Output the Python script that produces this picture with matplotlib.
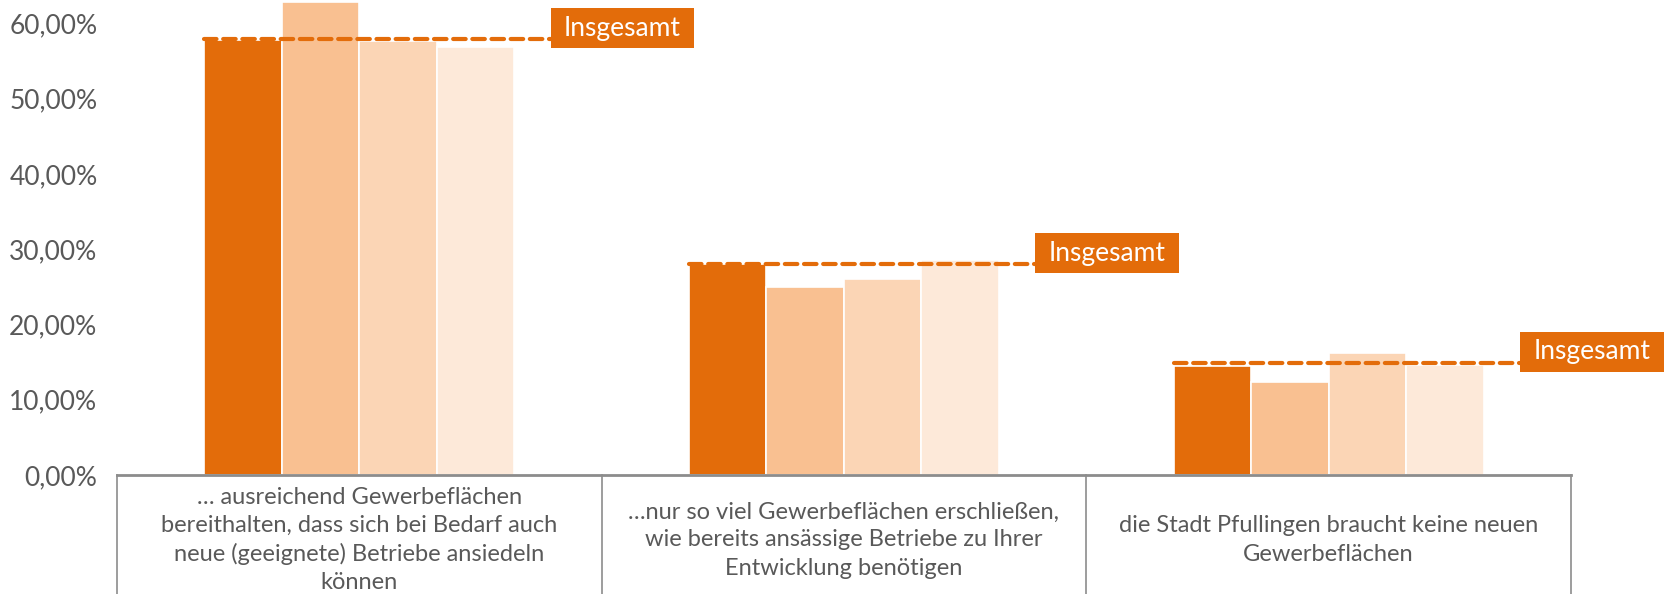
"""
  Grouped bar chart with "Insgesamt" reference lines per category.
"""

import matplotlib
matplotlib.use("Agg")
from matplotlib import pyplot as plt
import matplotlib.patches as patches
import matplotlib.transforms as mtransforms
import numpy as np

CATEGORIES = [
    "\u2026 ausreichend Gewerbeflächen\nbereithalten, dass sich bei Bedarf auch\n"
    "neue (geeignete) Betriebe ansiedeln\nkönnen",
    "\u2026nur so viel Gewerbeflächen erschließen,\nwie bereits ansässige Betriebe zu Ihrer\n"
    "Entwicklung benötigen",
    "die Stadt Pfullingen braucht keine neuen\nGewerbeflächen",
]

# four sub groups per category (values as share)
SERIES_1 = [0.578, 0.280, 0.145]
SERIES_2 = [0.628, 0.250, 0.124]
SERIES_3 = [0.577, 0.260, 0.162]
SERIES_4 = [0.568, 0.285, 0.146]
TOTALS = [0.579, 0.280, 0.149]
TOTAL_LABEL = "Insgesamt"

Y_TICKS = [0.0, 0.1, 0.2, 0.3, 0.4, 0.5, 0.6]

COLORS = ['#E36C0A', '#F9C091', '#FBD5B5', '#FDE9D9']
TEXT_COLOR = '#595959'
FONT = ['Lato', 'DejaVu Sans']


def fmt_pct(val):
    """
        German style percent label
    """
    return f"{val * 100:.2f}%".replace('.', ',')


def build_graphic():
    """
        Builds the figure
    """
    fig = plt.figure(figsize=(16.7, 5.94), dpi=100)
    axis = fig.add_axes([0.070, 0.2003, 0.8707, 0.7984])

    x_pos = np.arange(len(CATEGORIES))
    width = 0.16
    series = [SERIES_1, SERIES_2, SERIES_3, SERIES_4]
    for i, vals in enumerate(series):
        offs = (i - 1.5) * width
        axis.bar(x_pos + offs, vals, width, color=COLORS[i],
                 edgecolor='white', linewidth=1.2, zorder=2)

    # total lines + label boxes
    for x, tot in zip(x_pos, TOTALS):
        axis.plot([x - 2 * width, x + 0.395], [tot, tot], ls=(0, (3.0, 1.6)),
                  lw=3, c=COLORS[0], dash_capstyle='round', zorder=3,
                  clip_on=False)
        rect = patches.Rectangle((x + 0.395, tot - 0.012), 0.296, 0.053,
                                 fc=COLORS[0], ec='none', zorder=4,
                                 clip_on=False)
        axis.add_patch(rect)
        axis.text(x + 0.543, tot + 0.0145, TOTAL_LABEL, ha='center',
                  va='center', fontsize=19, color='white', family=FONT,
                  clip_on=False, zorder=5)

    axis.set_xlim(-0.5, 2.5)
    axis.set_ylim(0, 0.63)
    axis.set_yticks(Y_TICKS)
    axis.set_yticklabels([fmt_pct(v) for v in Y_TICKS], family=FONT,
                         fontsize=19, color=TEXT_COLOR)
    axis.tick_params(axis='y', length=0, pad=14)
    axis.set_xticks([])
    for side in ['top', 'right', 'left']:
        axis.spines[side].set_visible(False)
    axis.spines['bottom'].set_color('#8C8C8C')
    axis.spines['bottom'].set_linewidth(2)

    # category boxes below the axis
    trans = mtransforms.blended_transform_factory(axis.transData,
                                                  axis.transAxes)
    for edge in [-0.5, 0.5, 1.5, 2.5]:
        axis.plot([edge, edge], [0, -0.3], c='#8C8C8C', lw=1.2,
                  transform=trans, clip_on=False)
    for x, cat in zip(x_pos, CATEGORIES):
        axis.text(x, -0.137, cat, transform=trans, ha='center', va='center',
                  multialignment='center', fontsize=17, color=TEXT_COLOR,
                  family=FONT, linespacing=1.42)
    return fig


fig = build_graphic()
fig.savefig('out.png', dpi=100)
